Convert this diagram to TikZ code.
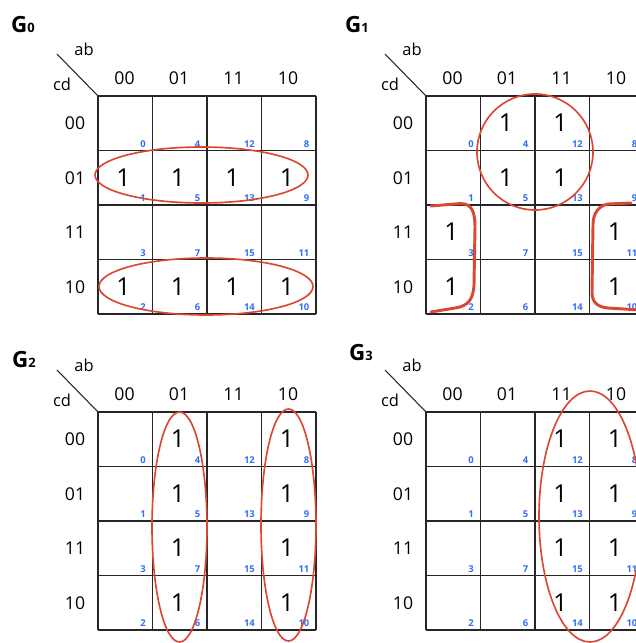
\documentclass[tikz,border=0pt]{standalone}
\usepackage{fontspec}
\setmainfont{Open Sans}
\definecolor{kred}{RGB}{218,72,52}
\definecolor{kblue}{RGB}{50,110,245}
\tikzset{
  gridline/.style={line width=1.1pt, draw=black!85},
  diag/.style={line width=0.9pt, draw=black!85},
  hdr/.style={font=\fontsize{15}{15}\selectfont, inner sep=0},
  var/.style={font=\fontsize{14}{14}\selectfont, inner sep=0},
  cnum/.style={font=\fontsize{8}{8}\bfseries\selectfont, text=kblue, inner sep=0, anchor=south east},
  one/.style={font=\fontsize{21}{21}\selectfont, inner sep=0},
  grp/.style={draw=kred, line width=1.4pt},
  bracket/.style={draw=kred, line width=2.5pt, line cap=round, line join=round},
  ttl/.style={font=\fontsize{19}{19}\bfseries\selectfont, inner sep=0},
}
\newcommand\kmapdraw[4]{%
  \begin{scope}[shift={(#1,#2)}]
    \foreach \i in {0,...,4} {
      \draw[gridline] (\i*54.5,0) -- (\i*54.5,218);
      \draw[gridline] (0,\i*54.5) -- (218,\i*54.5);
    }
    \coordinate (#3-corner) at (0,0);
    \coordinate (#3-diagend) at (-41,-42);
    \draw[diag] (#3-diagend) -- (#3-corner);
    \node[var] (#3-ab) at (-14,-47) {ab};
    \node[var] (#3-cd) at (-36,-12) {cd};
    \foreach \lab [count=\c from 0] in {00,01,11,10}
      \node[hdr] (#3-col\c) at (\c*54.5+26.5,-18) {\lab};
    \foreach \lab [count=\r from 0] in {00,01,11,10}
      \node[hdr] (#3-row\r) at (-23,\r*54.5+27.5) {\lab};
    \foreach \cv [count=\c from 0] in {0,4,12,8}
      \foreach \rv [count=\r from 0] in {0,1,3,2} {
        \pgfmathtruncatemacro\mt{\cv+\rv}
        \node[cnum] (#3-m\mt) at (\c*54.5+48,\r*54.5+51.5) {\mt};
      }
    \foreach \c/\r in {#4}
      \node[one] (#3-one\c\r) at (\c*54.5+25.5,\r*54.5+27) {1};
  \end{scope}}
\begin{document}
\begin{tikzpicture}[x=0.85pt,y=-0.85pt]
  \useasboundingbox (0,0) rectangle (636,643);
  \clip (0,0) rectangle (636,643);
  % titles
  \node[ttl] (t0) at (23,25) {G\raisebox{0pt}{\fontsize{11}{11}\selectfont 0}};
  \node[ttl] (t1) at (357,25) {G\raisebox{0pt}{\fontsize{11}{11}\selectfont 1}};
  \node[ttl] (t2) at (24,360) {G\raisebox{0pt}{\fontsize{11}{11}\selectfont 2}};
  \node[ttl] (t3) at (361,353) {G\raisebox{0pt}{\fontsize{11}{11}\selectfont 3}};
  % maps
  \kmapdraw{98}{96}{A}{0/1,1/1,2/1,3/1,0/3,1/3,2/3,3/3}
  \kmapdraw{426}{96}{B}{1/0,2/0,1/1,2/1,0/2,0/3,3/2,3/3}
  \kmapdraw{98}{412}{C}{1/0,1/1,1/2,1/3,3/0,3/1,3/2,3/3}
  \kmapdraw{426}{412}{D}{2/0,2/1,2/2,2/3,3/0,3/1,3/2,3/3}
  % groups G0
  \draw[grp] (201.5,175) ellipse [x radius=106.5, y radius=28];
  \draw[grp] (206,286.5) ellipse [x radius=107, y radius=28.5];
  % groups G1
  \draw[grp] (535,152) circle [radius=58];
  \draw[bracket] (431,206) -- (461,203.5) .. controls (472,204) and (475,212) .. (475,227)
    -- (474,285) .. controls (473,300) and (468,306) .. (455,308) -- (431,312);
  \draw[bracket] (631,203) -- (608,204) .. controls (598,206) and (593,214) .. (593,225)
    -- (592,292) .. controls (592,302) and (597,307) .. (608,308) -- (640,310);
  % groups G2
  \draw[grp] (179.5,527) ellipse [x radius=27.5, y radius=115];
  \draw[grp] (288.5,525) ellipse [x radius=27.5, y radius=116];
  % groups G3
  \draw[grp] (590,516.5) ellipse [x radius=51, y radius=125.5];
\end{tikzpicture}
\end{document}
